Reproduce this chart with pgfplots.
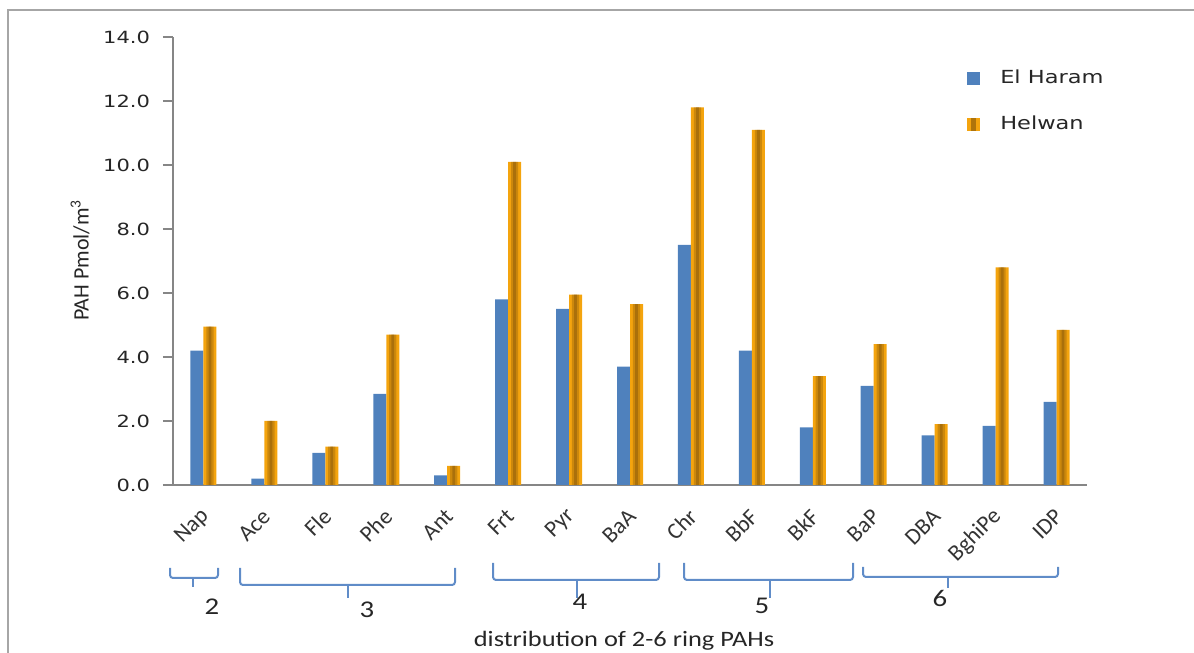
\documentclass[border=0pt]{standalone}
\usepackage{pgfplots}
\usepackage{pgfplotstable}
\pgfplotsset{compat=1.18}
\usepackage{fontspec}
\setmainfont{Carlito}
\newfontfamily\verd{DejaVu Sans}[FakeStretch=1.25]
\newfontfamily\calib{Carlito}[FakeStretch=1.2]
\definecolor{haram}{RGB}{79,129,189}
\definecolor{helA}{RGB}{244,164,14}
\definecolor{helD}{RGB}{130,84,10}
\definecolor{brk}{RGB}{96,140,200}
\definecolor{axgray}{RGB}{134,134,134}
\pgfplotstableread{
x  haram helwan
0  4.2   4.95
1  0.2   2.0
2  1.0   1.2
3  2.85  4.7
4  0.3   0.6
5  5.8   10.1
6  5.5   5.95
7  3.7   5.65
8  7.5   11.8
9  4.2   11.1
10 1.8   3.4
11 3.1   4.4
12 1.55  1.9
13 1.85  6.8
14 2.6   4.85
}\pahdata
\begin{document}
\begin{tikzpicture}
\useasboundingbox (0,0) rectangle (597pt,326.5pt);
\begin{axis}[
  at={(86.5pt,84pt)}, anchor=south west,
  scale only axis, width=457pt, height=224pt,
  xmin=-0.5, xmax=14.5, ymin=0, ymax=14,
  axis x line*=bottom, axis y line*=left,
  axis line style={axgray, line width=0.8pt},
  ybar=0pt, bar width=6.5pt,
  xtick={0,...,14},
  xticklabels={Nap,Ace,Fle,Phe,Ant,Frt,Pyr,BaA,Chr,BbF,BkF,BaP,DBA,BghiPe,IDP},
  xtick style={draw=none},
  xticklabel style={font=\fontsize{11.5}{13}\selectfont, text=black!80, xshift=3.5pt, yshift=-6.5pt, rotate=45, anchor=east},
  ytick={0,2,...,14},
  ytick style={axgray, line width=0.8pt},
  tick align=outside, major tick length=5pt,
  /pgf/number format/assume math mode=true,
  yticklabel style={font=\fontsize{8.4}{10}\verd, text=black!85, xshift=-3pt},
  yticklabel={\pgfmathprintnumber[fixed,fixed zerofill,precision=1]{\tick}},
  ylabel={PAH Pmol/m\textsuperscript{3}},
  every axis y label/.style={at={(rel axis cs:0,0.502)}, xshift=-46.5pt, rotate=90, anchor=center, font=\fontsize{11}{13}\selectfont, text=black!85},
  legend style={draw=none, fill=none, at={(0.862,0.945)}, anchor=north west, font=\fontsize{9}{11}\verd, text=black!85, row sep=10.5pt, cells={anchor=west}},
  /tikz/every odd column/.append style={column sep=8pt},
  clip=false,
]
\addplot[fill=haram, draw=none, bar shift=-3.25pt,
  legend image code/.code={\path[fill=haram] (0pt,-3.25pt) rectangle (6.5pt,3.25pt);}]
  table[x=x, y=haram] {\pahdata};
\addplot[fill=helA, draw=none, bar shift=3.25pt,
  legend image code/.code={\path[fill=helA] (0pt,-3.25pt) rectangle (6.5pt,3.25pt);
    \path[fill=helD, opacity=0.6] (2pt,-3.25pt) rectangle (4.5pt,3.25pt);}]
  table[x=x, y=helwan] {\pahdata};
\addplot[fill=helD, fill opacity=0.35, draw=none, bar width=3.6pt, bar shift=3.25pt, forget plot]
  table[x=x, y=helwan] {\pahdata};
\addplot[fill=helD, fill opacity=0.45, draw=none, bar width=1.4pt, bar shift=3.25pt, forget plot]
  table[x=x, y=helwan] {\pahdata};
\legend{El Haram, Helwan}
\end{axis}
\begin{scope}[x=0.5pt, y=-0.5pt, yshift=326.5pt]
  \draw[gray!70, line width=1pt] (8,653) -- (8,10) -- (1194,10);
  \begin{scope}[brk, line width=1pt, rounded corners=1.5pt]
    \draw (170,568) -- (170,578) -- (218,578) -- (218,568); \draw (193,578) -- (193,587);
    \draw (240,568) -- (240,585) -- (455,585) -- (455,568); \draw (348,585) -- (348,598);
    \draw (493,563) -- (493,580) -- (659,580) -- (659,563); \draw (577,580) -- (577,598);
    \draw (684,563) -- (684,580) -- (853,580) -- (853,563); \draw (770,580) -- (770,598);
    \draw (863,567) -- (863,577) -- (1058,577) -- (1058,567); \draw (948,577) -- (948,588);
  \end{scope}
  \begin{scope}[font=\fontsize{12}{14}\calib, text=black!85]
    \node at (212,607) {2};
    \node at (367,610) {3};
    \node at (580,602) {4};
    \node at (762,606) {5};
    \node at (940,598) {6};
  \end{scope}
  \node[font=\fontsize{11}{13}\calib, text=black!85] at (624,641) {distribution of 2-6 ring PAHs};
\end{scope}
\end{tikzpicture}
\end{document}
